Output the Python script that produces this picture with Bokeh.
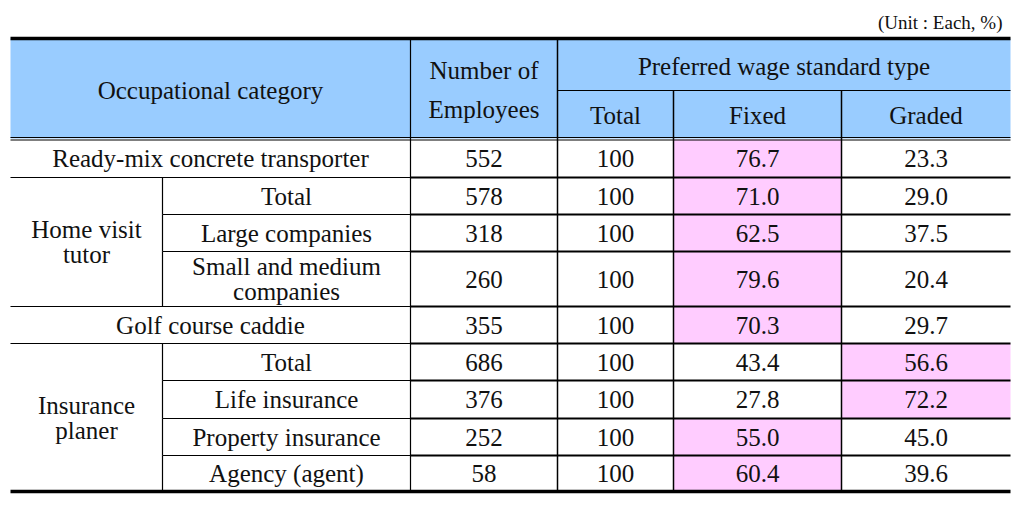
from bokeh.plotting import figure
from bokeh.models import Range1d, ColumnDataSource
from bokeh.embed import file_html
from bokeh.resources import INLINE
from bokeh.core.properties import value

# ---------------- data ----------------
groups = ["Ready-mix concrete transporter", "Home visit tutor", "Home visit tutor", "Home visit tutor",
          "Golf course caddie", "Insurance planer", "Insurance planer", "Insurance planer", "Insurance planer"]
subcats = ["", "Total", "Large companies", "Small and medium companies", "",
           "Total", "Life insurance", "Property insurance", "Agency (agent)"]
employees = [552, 578, 318, 260, 355, 686, 376, 252, 58]
totals = [100, 100, 100, 100, 100, 100, 100, 100, 100]
fixed = [76.7, 71.0, 62.5, 79.6, 70.3, 43.4, 27.8, 55.0, 60.4]
graded = [23.3, 29.0, 37.5, 20.4, 29.7, 56.6, 72.2, 45.0, 39.6]
header_cols = ["Total", "Fixed", "Graded"]
unit_text = "(Unit : Each, %)"

# ---------------- layout (pixel coordinates) ----------------
FONT = value("Liberation Serif")
FS = "25px"
X0, XSUB, XCAT, XNUM, XTOT, XFIX, X1 = 10, 162, 410, 557, 673, 841, 1010
Y_TOP, Y_HMID, Y_HBOT = 38, 90, 138
row_edges = [139, 177, 214, 251, 306, 343, 380, 418, 455, 491]

W, H = 1014, 505
p = figure(width=W, height=H, output_backend="svg", toolbar_location=None,
           x_range=Range1d(0, W), y_range=Range1d(H, 0), min_border=0)
p.axis.visible = False
p.grid.visible = False
p.outline_line_color = None
p.background_fill_color = "white"
p.border_fill_color = "white"

# header background
p.quad(left=[X0], right=[X1], top=[Y_TOP], bottom=[Y_HBOT], fill_color="#99CCFF", line_color=None)

# highlight cells (larger share)
hl_l, hl_r, hl_t, hl_b = [], [], [], []
for i in range(len(fixed)):
    if fixed[i] >= graded[i]:
        hl_l.append(XTOT); hl_r.append(XFIX)
    else:
        hl_l.append(XFIX); hl_r.append(X1)
    hl_t.append(row_edges[i]); hl_b.append(row_edges[i + 1])
p.quad(left=hl_l, right=hl_r, top=hl_t, bottom=hl_b, fill_color="#FFCCFF", line_color=None)

# ---------------- lines ----------------
def hline(y, x0, x1, w=1.5):
    p.line([x0, x1], [y, y], line_color="black", line_width=w)

def vline(x, y0, y1, w=1.5):
    p.line([x, x], [y0, y1], line_color="black", line_width=w)

hline(Y_TOP, X0, X1, 3.5)
hline(Y_HMID, XNUM, X1, 1.2)
hline(Y_HBOT - 1, X0, X1, 1.2)
hline(Y_HBOT + 1.5, X0, X1, 1.2)
hline(row_edges[-1], X0, X1, 3.5)

for i in range(1, len(row_edges) - 1):
    same_group = groups[i - 1] == groups[i] and subcats[i] != ""
    start = XSUB if same_group else X0
    hline(row_edges[i], start, XCAT, 1.2)
    hline(row_edges[i], XCAT, X1, 2)

vline(XCAT, Y_TOP, row_edges[-1], 1.2)
vline(XNUM, Y_TOP, row_edges[-1], 1.5)
vline(XTOT, Y_HMID, row_edges[-1], 1.5)
vline(XFIX, Y_HMID, row_edges[-1], 1.5)
for i in range(len(subcats)):
    if subcats[i] != "":
        vline(XSUB, row_edges[i], row_edges[i + 1], 1.2)

# ---------------- texts ----------------
tx, ty, tt = [], [], []

def put(x, y, s):
    tx.append(x); ty.append(y); tt.append(s)

put((X0 + XCAT) / 2, 90, "Occupational category")
put((XCAT + XNUM) / 2, 70, "Number of")
put((XCAT + XNUM) / 2, 109, "Employees")
put((XNUM + X1) / 2, 66, "Preferred wage standard type")
for name, a, b in zip(header_cols, [XNUM, XTOT, XFIX], [XTOT, XFIX, X1]):
    put((a + b) / 2, 115, name)

def wrap(s, maxlen):
    words = s.split(" ")
    lines, cur = [], ""
    for w in words:
        cand = (cur + " " + w).strip()
        if len(cand) > maxlen and cur:
            lines.append(cur); cur = w
        else:
            cur = cand
    lines.append(cur)
    return lines

i = 0
while i < len(groups):
    j = i
    while j + 1 < len(groups) and groups[j + 1] == groups[i]:
        j += 1
    top, bot = row_edges[i], row_edges[j + 1]
    if subcats[i] == "":
        put((X0 + XCAT) / 2, (top + bot) / 2, groups[i])
    else:
        lines = wrap(groups[i], 11)
        yc = (top + bot) / 2
        for k, ln in enumerate(lines):
            put((X0 + XSUB) / 2, yc + (k - (len(lines) - 1) / 2) * 25, ln)
    i = j + 1

for r in range(len(subcats)):
    yc = (row_edges[r] + row_edges[r + 1]) / 2
    if subcats[r] != "":
        lines = wrap(subcats[r], 22)
        for k, ln in enumerate(lines):
            put((XSUB + XCAT) / 2, yc + (k - (len(lines) - 1) / 2) * 25, ln)
    put((XCAT + XNUM) / 2, yc, str(employees[r]))
    put((XNUM + XTOT) / 2, yc, str(totals[r]))
    put((XTOT + XFIX) / 2, yc, f"{fixed[r]:.1f}")
    put((XFIX + X1) / 2, yc, f"{graded[r]:.1f}")

src = ColumnDataSource(dict(x=tx, y=ty, t=tt))
p.text(x="x", y="y", text="t", source=src, text_font=FONT, text_font_size=FS,
       text_align="center", text_baseline="middle", text_color="#111111")

p.text(x=[1002], y=[22], text=[unit_text], text_font=FONT, text_font_size="19px",
       text_align="right", text_baseline="middle", text_color="#111111")

open("out.html", "w").write(file_html(p, INLINE))
